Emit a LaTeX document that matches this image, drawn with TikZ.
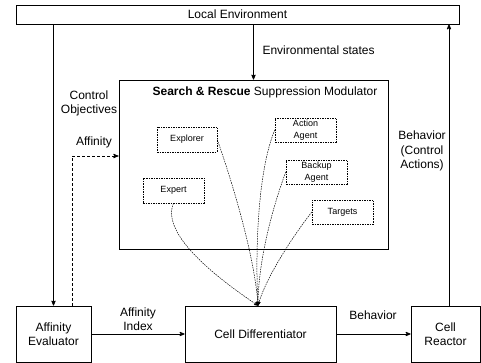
\documentclass[tikz,border=0pt]{standalone}
\usepackage{fontspec}
\setmainfont{Liberation Sans}
\usetikzlibrary{arrows}
\tikzset{
  block/.style={draw, line width=0.8pt, inner sep=0pt, align=center, font=\fontsize{12}{14}\selectfont},
  agent/.style={draw, dash pattern=on 1.5pt off 1pt, line width=0.5pt, inner sep=0pt, align=center,
                font=\fontsize{9}{11.5}\selectfont, minimum width=61pt, minimum height=24pt},
  lbl/.style={align=center, font=\fontsize{12}{14.5}\selectfont},
  link/.style={->, dash pattern=on 1.5pt off 1pt, line width=0.5pt}
}

\begin{document}
\begin{tikzpicture}[x=1pt, y=-1pt, >=stealth']
\useasboundingbox (0,0) rectangle (481,363);
% outer blocks
\node[block, minimum width=443pt, minimum height=19pt] (env) at (237.5,14.5) {Local Environment};
\node[block, minimum width=269pt, minimum height=169pt] (srsm) at (253.5,164.5) {};
\node[lbl] (title) at (265,92) {\textbf{Search \& Rescue} Suppression Modulator};
\node[block, minimum width=75pt, minimum height=56pt] (eval) at (53.5,334) {Affinity\\Evaluator};
\node[block, minimum width=151pt, minimum height=56pt] (diff) at (260.5,334) {Cell Differentiator};
\node[block, minimum width=69pt, minimum height=56pt] (reactor) at (445.5,334) {Cell\\Reactor};
% agents
\node[agent, minimum width=60pt, minimum height=25pt] (explorer) at (187,139.5) {Explorer};
\node[agent] (action) at (305.5,130) {Action\\Agent};
\node[agent] (backup) at (316.5,172) {Backup\\Agent};
\node[agent, minimum height=25pt] (expert) at (173.5,190.5) {Expert};
\node[agent] (targets) at (342.5,212) {Targets};
% labels
\node[lbl, anchor=west] (states) at (259,50) {Environmental states};
\node[lbl] (objectives) at (89,103.5) {Control\\Objectives};
\node[lbl] (affinity) at (94,142) {Affinity};
\node[lbl] (behaviorca) at (422,151) {Behavior\\(Control\\Actions)};
\node[lbl] (index) at (138,319) {Affinity\\Index};
\node[lbl] (behavior) at (373,315) {Behavior};
% connectors
\coordinate (affin) at (0,156);
\coordinate (tip) at ([xshift=-2.5pt]diff.north);
\draw[->, line width=0.8pt] (env.south -| eval.north) -- (eval.north);
\draw[->, line width=0.8pt] (env.south -| srsm.north) -- (srsm.north);
\draw[->, line width=0.8pt] ([xshift=3.5pt]reactor.north) -- ([xshift=3.5pt]reactor.north |- env.south);
\draw[->, line width=0.8pt] (eval) -- (diff);
\draw[->, line width=0.8pt] (diff) -- (reactor);
\draw[->, line width=0.9pt, dash pattern=on 3pt off 2pt] ([xshift=18.5pt]eval.north) |- (srsm.west |- affin);
\draw[link] (explorer.east) .. controls (235,190) and (255,260) .. (tip);
\draw[link] (action.west) .. controls (258,170) and (255,250) .. (tip);
\draw[link] (backup.west) .. controls (268,220) and (258,270) .. (tip);
\draw[link] (targets.west) .. controls (290,240) and (265,280) .. (tip);
\draw[link] (expert.south) .. controls (160,235) and (220,280) .. (tip);
\end{tikzpicture}
\end{document}
